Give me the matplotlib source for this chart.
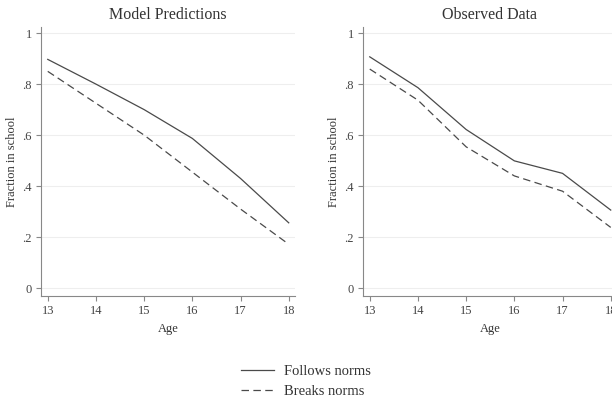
import matplotlib
matplotlib.use("Agg")
import matplotlib.pyplot as plt

# Daten
age = [13, 14, 15, 16, 17, 18]
model_follows = [0.897, 0.80, 0.70, 0.587, 0.43, 0.256]
model_breaks = [0.85, 0.725, 0.60, 0.455, 0.31, 0.172]
obs_follows = [0.907, 0.786, 0.622, 0.499, 0.45, 0.306]
obs_breaks = [0.859, 0.737, 0.554, 0.44, 0.38, 0.238]
yticks = [0, 0.2, 0.4, 0.6, 0.8, 1]
ytick_labels = ["0", ".2", ".4", ".6", ".8", "1"]
titles = ["Model Predictions", "Observed Data"]
labels = ["Follows norms", "Breaks norms"]

plt.rcParams['font.family'] = ['Liberation Serif', 'DejaVu Serif']

fig = plt.figure(figsize=(6.12, 4.03), dpi=100)
ax1 = fig.add_axes([41/612, 107/403, 254/612, 269/403])
ax2 = fig.add_axes([363/612, 107/403, 254/612, 269/403])

line_col = '#4a4a4a'
for ax, title, f, b in [(ax1, titles[0], model_follows, model_breaks),
                        (ax2, titles[1], obs_follows, obs_breaks)]:
    ax.plot(age, f, color=line_col, lw=0.9, label=labels[0])
    ax.plot(age, b, color=line_col, lw=0.9, dashes=(6, 3.5), label=labels[1])
    ax.set_xlim(12.86, 18.13)
    ax.set_ylim(-0.031, 1.024)
    ax.set_xticks(age)
    ax.set_yticks(yticks)
    ax.set_yticklabels(ytick_labels)
    #Gitterlinien sehr hell
    ax.grid(axis='y', color='#eeeeee', lw=0.8)
    ax.set_axisbelow(True)
    for s in ['top', 'right']:
        ax.spines[s].set_visible(False)
    for s in ['left', 'bottom']:
        ax.spines[s].set_color('#888888')
        ax.spines[s].set_linewidth(0.8)
    ax.tick_params(direction='out', length=3.5, width=0.8, color='#888888',
                   labelsize=9, labelcolor='#444444', pad=3)
    ax.set_title(title, fontsize=11.5, color='#333333', pad=6)
    ax.set_xlabel("Age", fontsize=9, color='#333333', labelpad=4)
    ax.set_ylabel("Fraction in school", fontsize=9, color='#333333', labelpad=3)

h, l = ax1.get_legend_handles_labels()
fig.legend(h, l, loc='center', bbox_to_anchor=(0.5, 0.053), frameon=False,
           fontsize=10.5, handlelength=2.3, handletextpad=0.7,
           labelspacing=0.5, labelcolor='#333333')

fig.savefig("out.png", dpi=100)
